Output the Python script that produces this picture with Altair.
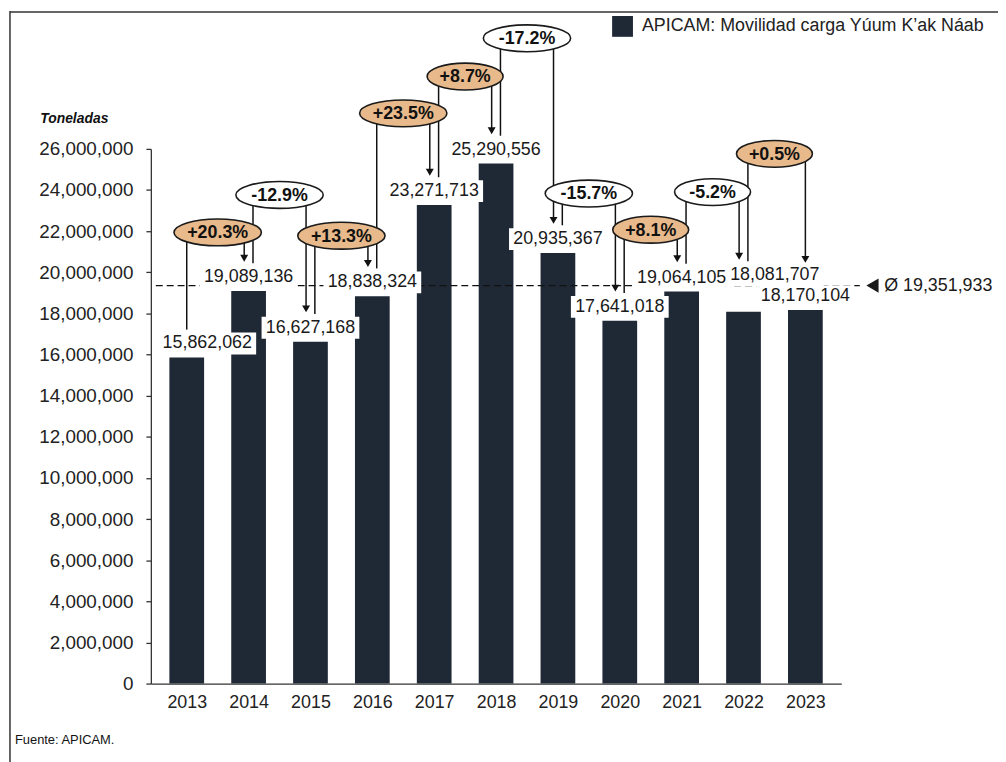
import altair as alt
import pandas as pd

# ---------------- data ----------------
years = [2013, 2014, 2015, 2016, 2017, 2018, 2019, 2020, 2021, 2022, 2023]
tonnes = [15862062, 19089136, 16627168, 18838324, 23271713, 25290556,
          20935367, 17641018, 19064105, 18081707, 18170104]
series_name = "APICAM: Movilidad carga Yúum K’ak Náab"
y_ticks = list(range(0, 26_000_001, 2_000_000))
source_note = "Fuente: APICAM."
y_title = "Toneladas"

# ---------------- layout (not data) ----------------
FONT = "Liberation Sans"
BAR = "#1f2835"
TAN = "#e8b98b"
W, H = 696, 539
XMIN, XMAX = 2012.5, 2023.5
YMAX = 26_000_000
PXX = (XMAX - XMIN) / W        # x units per pixel
PXY = YMAX / H                 # y units per pixel

label_dx = {2013: 21, 2022: 32}          # px shift of value labels
label_up = {2022: 37}                    # px above bar top (default 14)
badge_level_m = [21.94, 23.76, 21.78, 27.73, 29.52, 31.38, 23.83, 22.07, 23.90, 25.76]
left_dx = {0: 0}                         # start line offset overrides (px)
right_dx = {9: 0}                        # arrow offset overrides (px)
arrow_extra = {9: 18}                    # extra px of arrow tip above label

# ---------------- derived tables ----------------
bars = pd.DataFrame({"x": years, "y": tonnes, "serie": series_name})

lab_x = [yr + label_dx.get(yr, 0) * PXX for yr in years]
lab_y = [v + label_up.get(yr, 14) * PXY for yr, v in zip(years, tonnes)]
labels = pd.DataFrame({
    "x": lab_x, "y": lab_y, "t": [f"{v:,}" for v in tonnes],
    "x1": [x - 50 * PXX for x in lab_x], "x2": [x + 50 * PXX for x in lab_x],
    "y1": [y - 11 * PXY for y in lab_y], "y2": [y + 11 * PXY for y in lab_y],
})

avg = sum(tonnes) / len(tonnes)

badges, lines, heads = [], [], []
for i in range(len(years) - 1):
    ch = tonnes[i + 1] / tonnes[i] - 1
    txt = f"{ch * 100:+.1f}%"
    by = badge_level_m[i] * 1e6
    badges.append({"x": years[i] + 0.5, "y": by, "t": txt,
                   "kind": "w6" if len(txt) >= 6 else "w5",
                   "sign": "up" if ch >= 0 else "down"})
    lx = years[i] + left_dx.get(i, 4.5) * PXX
    lines.append({"x": lx, "y": by, "y2": lab_y[i] + 14 * PXY})
    rx = years[i + 1] - right_dx.get(i, 4.5) * PXX
    tip = lab_y[i + 1] + (15 + arrow_extra.get(i, 0)) * PXY
    lines.append({"x": rx, "y": by, "y2": tip + 4 * PXY})
    heads.append({"x": rx, "y": tip + 4 * PXY})
badges = pd.DataFrame(badges)
lines = pd.DataFrame(lines)
heads = pd.DataFrame(heads)

avg_df = pd.DataFrame({"x": [XMIN], "x2": [XMAX + 24 * PXX], "y": [avg]})
avg_mark = pd.DataFrame({"x": [XMAX + 37 * PXX], "y": [avg]})
avg_txt = pd.DataFrame({"x": [XMAX + 49 * PXX], "y": [avg],
                        "t": [f"Ø {round(avg):,}"]})

# ---------------- scales / axes ----------------
XS = alt.Scale(domain=[XMIN, XMAX], nice=False, zero=False)
YS = alt.Scale(domain=[0, YMAX], nice=False, zero=True)
XAX = alt.Axis(values=years, format="d", ticks=False, grid=False, title=None,
               labelFontSize=18, labelPadding=10, labelColor="#222",
               domainColor="#333", domainWidth=1.3, labelFont=FONT)
YAX = alt.Axis(values=y_ticks, format=",d", grid=False, title=y_title,
               labelFontSize=19, labelPadding=13, labelColor="#222", labelFont=FONT,
               tickSize=5, tickColor="#333", tickWidth=1.3,
               domainColor="#333", domainWidth=1.3,
               titleAngle=0, titleX=-112, titleY=-31, titleAlign="left",
               titleBaseline="middle", titleFontSize=14, titleFontStyle="italic",
               titleFontWeight="bold", titleColor="#111", titleFont=FONT)


def X(f="x"):
    return alt.X(f"{f}:Q", scale=XS, axis=XAX)


def Y(f="y"):
    return alt.Y(f"{f}:Q", scale=YS, axis=YAX)


K = 0.5523


def ell(a, b):
    return (f"M{a},0 C{a},{b*K:.4f} {a*K:.4f},{b} 0,{b} "
            f"C{-a*K:.4f},{b} {-a},{b*K:.4f} {-a},0 "
            f"C{-a},{-b*K:.4f} {-a*K:.4f},{-b} 0,{-b} "
            f"C{a*K:.4f},{-b} {a},{-b*K:.4f} {a},0 Z")


PATH6 = ell(1.0, 0.307)
PATH5 = ell(0.87, 0.307)

# ---------------- layers ----------------
bar_layer = alt.Chart(bars).mark_bar(size=35).encode(
    x=X(), y=Y(),
    color=alt.Color("serie:N", scale=alt.Scale(range=[BAR]),
                    legend=alt.Legend(orient="none", legendX=465, legendY=-134,
                                      title=None, symbolType="square",
                                      symbolSize=441, symbolStrokeWidth=0,
                                      labelFontSize=18, labelLimit=600,
                                      labelOffset=9, labelColor="#222",
                                      labelFont=FONT)))

avg_layer = alt.Chart(avg_df).mark_rule(color="#111", strokeWidth=1.3,
                                         strokeDash=[7, 4]).encode(
    x=X(), x2=alt.X2("x2:Q"), y=Y())

box_layer = alt.Chart(labels).mark_rect(fill="white").encode(
    x=X("x1"), x2=alt.X2("x2:Q"), y=Y("y1"), y2=alt.Y2("y2:Q"))

lab_layer = alt.Chart(labels).mark_text(fontSize=18, color="#1a1a1a",
                                        baseline="middle", font=FONT).encode(
    x=X(), y=Y(), text="t:N")

line_layer = alt.Chart(lines).mark_rule(color="#111", strokeWidth=1.5).encode(
    x=X(), y=Y(), y2=alt.Y2("y2:Q"))

head_layer = alt.Chart(heads).mark_point(shape="triangle-down", filled=True,
                                         size=64, color="#111", opacity=1).encode(
    x=X(), y=Y())

oval_layer = alt.Chart(badges).mark_point(filled=True, size=88 * 88, opacity=1,
                                          stroke="#1a1a1a", strokeWidth=1.6,
                                          strokeOpacity=1, fillOpacity=1).encode(
    x=X(), y=Y(),
    shape=alt.Shape("kind:N", scale=alt.Scale(domain=["w6", "w5"],
                                              range=[PATH6, PATH5]), legend=None),
    fill=alt.Fill("sign:N", scale=alt.Scale(domain=["up", "down"],
                                            range=[TAN, "white"]), legend=None))

oval_txt = alt.Chart(badges).mark_text(fontSize=18, fontWeight="bold", color="#111",
                                       baseline="middle", dy=1, font=FONT).encode(
    x=X(), y=Y(), text="t:N")

avg_tri = alt.Chart(avg_mark).mark_point(shape="triangle-left", filled=True,
                                         size=200, color="#1a1a1a", opacity=1).encode(
    x=X(), y=Y())

avg_lab = alt.Chart(avg_txt).mark_text(fontSize=18, color="#1a1a1a", align="left",
                                       baseline="middle", font=FONT).encode(
    x=X(), y=Y(), text="t:N")

one = pd.DataFrame({"t": [source_note]})
note = alt.Chart(one).mark_text(fontSize=13, color="#111", align="left",
                                baseline="middle", font=FONT).encode(
    x=alt.value(-137), y=alt.value(596), text="t:N")
frame_l = alt.Chart(one).mark_rule(color="#333", strokeWidth=1.5).encode(
    x=alt.value(-142), y=alt.value(-139), y2=alt.value(620))
frame_t = alt.Chart(one).mark_rule(color="#333", strokeWidth=1.5).encode(
    x=alt.value(-142), x2=alt.value(860), y=alt.value(-138))

chart = alt.layer(
    bar_layer, avg_layer, box_layer, lab_layer, line_layer, head_layer,
    oval_layer, oval_txt, avg_tri, avg_lab, note, frame_l, frame_t
).properties(
    width=W, height=H,
    autosize=alt.AutoSizeParams(type="none"),
    padding={"left": 144, "top": 139, "right": 158, "bottom": 76},
).configure(font=FONT).configure_view(stroke=None)

chart.save("out.html", embed_options={"renderer": "svg", "actions": False})
